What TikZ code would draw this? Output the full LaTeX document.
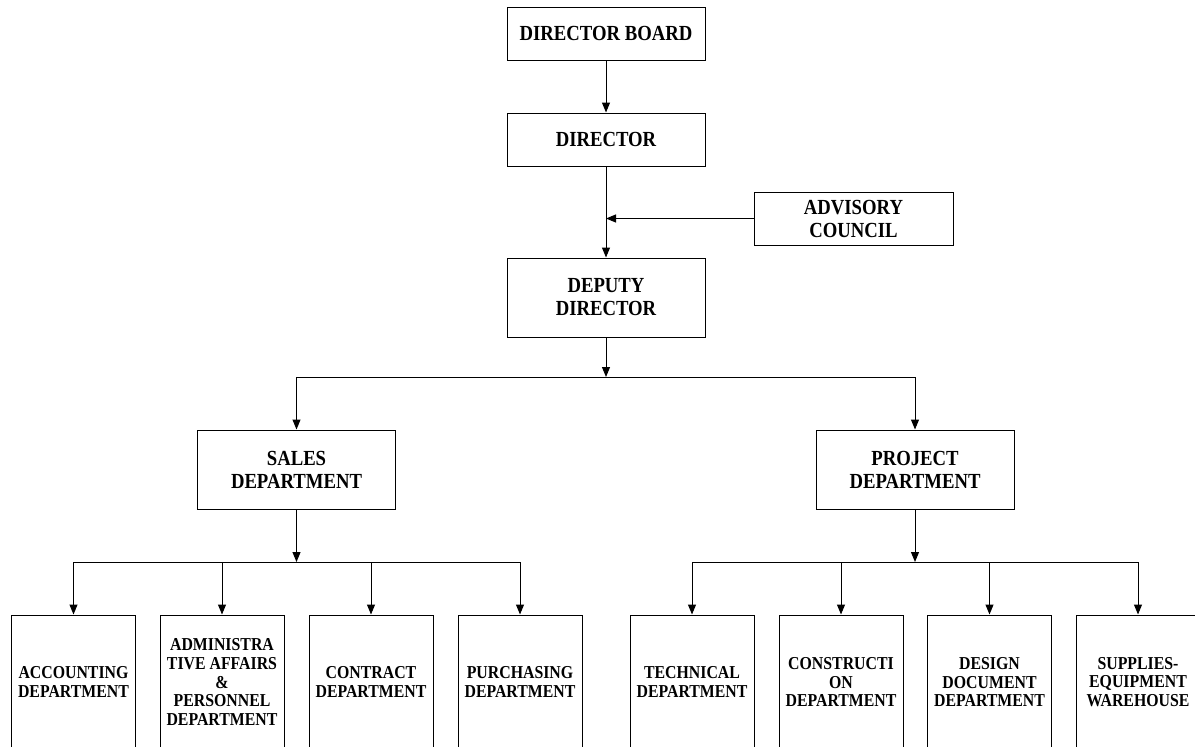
\documentclass[tikz,border=0pt]{standalone}
\usepackage{fontspec}
\setmainfont{Liberation Serif}[FakeStretch=0.87]
\usetikzlibrary{arrows.meta}
\begin{document}
\begin{tikzpicture}[x=1pt,y=-1pt,
 box/.style={draw, line width=1pt, align=center, inner sep=0pt, font=\fontsize{21.5}{23}\selectfont\bfseries},
 topbox/.style={box, minimum width=198pt, minimum height=53pt},
 midbox/.style={box, minimum width=198pt, minimum height=79pt},
 leafbox/.style={box, minimum width=124pt, minimum height=134pt, font=\fontsize{18.2}{18.6}\selectfont\bfseries},
 conn/.style={line width=1pt},
 arr/.style={conn, -{Triangle[length=10pt,width=8pt]}}]
\clip (0,0) rectangle (1195,747);
\fill[white] (0,0) rectangle (1195,747);

\node[topbox] (board) at (606,33.5) {DIRECTOR BOARD};
\node[topbox] (dir) at (606,139.5) {DIRECTOR};
\node[topbox, minimum width=199pt] (adv) at (853.5,218.5) {ADVISORY\\COUNCIL};
\node[midbox] (dep) at (606,297.5) {DEPUTY\\DIRECTOR};
\node[midbox] (sales) at (296.5,469.5) {SALES\\DEPARTMENT};
\node[midbox] (proj) at (915,469.5) {PROJECT\\DEPARTMENT};

\node[leafbox] (acc) at (73.5,682) {ACCOUNTING\\DEPARTMENT};
\node[leafbox] (adm) at (222,682) {ADMINISTRA\\TIVE AFFAIRS\\\&\\PERSONNEL\\DEPARTMENT};
\node[leafbox] (con) at (371,682) {CONTRACT\\DEPARTMENT};
\node[leafbox] (pur) at (520,682) {PURCHASING\\DEPARTMENT};
\node[leafbox] (tec) at (692,682) {TECHNICAL\\DEPARTMENT};
\node[leafbox] (cst) at (841,682) {CONSTRUCTI\\ON\\DEPARTMENT};
\node[leafbox] (des) at (989.5,682) {DESIGN\\DOCUMENT\\DEPARTMENT};
\node[leafbox] (sup) at (1138,682) {SUPPLIES-\\EQUIPMENT\\WAREHOUSE};

\draw[arr] (board) -- (dir);
\draw[arr] (dir) -- (dep);
\coordinate (adj) at (adv.west -| dir.south);
\draw[arr] (adv.west) -- (adj);

\coordinate (j1) at (606,377);
\draw[arr] (dep) -- (j1);
\draw[conn] (sales.north |- j1) -- (proj.north |- j1);
\draw[arr] (sales.north |- j1) -- (sales.north);
\draw[arr] (proj.north |- j1) -- (proj.north);

\coordinate (j2) at (296.5,562);
\draw[arr] (sales) -- (j2);
\draw[conn] (acc.north |- j2) -- (pur.north |- j2);
\foreach \n in {acc,adm,con,pur} \draw[arr] (\n.north |- j2) -- (\n.north);

\coordinate (j3) at (915,562);
\draw[arr] (proj) -- (j3);
\draw[conn] (tec.north |- j3) -- (sup.north |- j3);
\foreach \n in {tec,cst,des,sup} \draw[arr] (\n.north |- j3) -- (\n.north);
\end{tikzpicture}
\end{document}
